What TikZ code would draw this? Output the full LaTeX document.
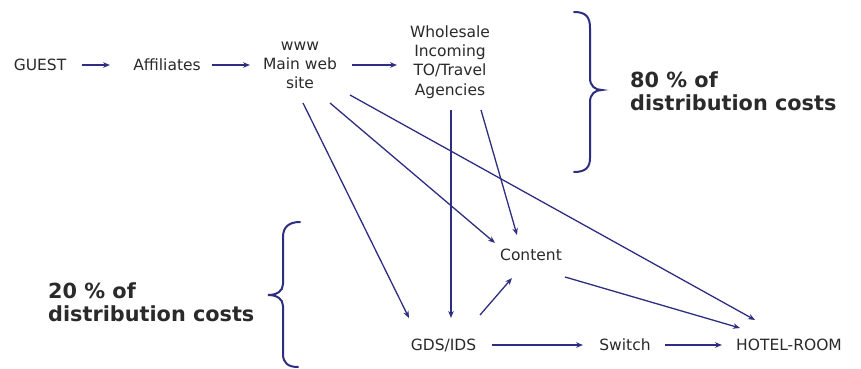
\documentclass[tikz,border=0pt]{standalone}
\usepackage{fontspec}
\setmainfont{DejaVu Sans}
\usetikzlibrary{arrows.meta}
\definecolor{navy}{HTML}{2E2E80}
\definecolor{txt}{HTML}{2A2A2A}
\begin{document}
\begin{tikzpicture}[x=1pt,y=-1pt,
  lbl/.style={inner sep=0pt,align=center,text=txt,font=\fontsize{15.5}{19.3}\selectfont},
  big/.style={inner sep=0pt,align=left,text=txt,font=\fontsize{20.8}{23}\selectfont\bfseries,anchor=west},
  arr/.style={draw=navy,line width=1.3pt,-{Stealth[length=7pt,width=5.5pt]}},
  brc/.style={draw=navy,line width=2pt,line cap=round}]
\useasboundingbox[fill=white] (0,0) rectangle (861,369);
\node[lbl] (guest) at (40,65) {GUEST};
\node[lbl] (aff) at (167,65) {Affiliates};
\node[lbl] (www) at (300,65.5) {www\\Main web\\site};
\node[lbl] (whole) at (450,62) {Wholesale\\Incoming\\TO/Travel\\Agencies};
\node[lbl] (content) at (531,255) {Content};
\node[lbl] (gds) at (443.5,345) {GDS/IDS};
\node[lbl] (switch) at (625,345) {Switch};
\node[lbl] (hotel) at (789,345) {HOTEL-ROOM};
\node[big] (top) at (630,91.5) {80 \% of\\distribution costs};
\node[big] (bot) at (48,302.5) {20 \% of\\distribution costs};
% horizontal arrows
\draw[arr] ([xshift=42pt]guest.center) -- ([xshift=-57pt]aff.center);
\draw[arr] ([xshift=45pt]aff.center) -- ([shift={(-50,-0.5)}]www.center);
\draw[arr] ([shift={(52,-0.5)}]www.center) -- ([shift={(-53,3)}]whole.center);
\draw[arr] ([xshift=48pt]gds.center) -- ([xshift=-42pt]switch.center);
\draw[arr] ([xshift=40pt]switch.center) -- ([xshift=-67pt]hotel.center);
% diagonals
\draw[arr] ([shift={(3,37.5)}]www.center) -- ([shift={(-34.5,-27)}]gds.center);
\draw[arr] ([shift={(30,37.5)}]www.center) -- ([shift={(-36,-12)}]content.center);
\draw[arr] ([shift={(50,29.5)}]www.center) -- ([shift={(-34,-25)}]hotel.center);
\draw[arr] ([shift={(1,48)}]whole.center) -- ([shift={(7.5,-27)}]gds.center);
\draw[arr] ([shift={(31,48)}]whole.center) -- ([shift={(-14,-20)}]content.center);
\draw[arr] ([shift={(36.5,-30)}]gds.center) -- ([shift={(-19,23)}]content.center);
\draw[arr] ([shift={(34,22)}]content.center) -- ([shift={(-49,-17)}]hotel.center);
% braces
\draw[brc] (574,12) .. controls (586,12) and (590,17) .. (590,28) -- (590,78)
  .. controls (590,86) and (595,90) .. (602,90)
  .. controls (595,90) and (590,94) .. (590,102) -- (590,158)
  .. controls (590,167) and (586,172) .. (574,172);
\draw[brc] (300,222) .. controls (289,222) and (283,227) .. (283,237) -- (283,284)
  .. controls (283,291) and (277,295) .. (268,295)
  .. controls (277,295) and (283,299) .. (283,306) -- (283,354)
  .. controls (283,363) and (288,367) .. (298,367);
\end{tikzpicture}
\end{document}
